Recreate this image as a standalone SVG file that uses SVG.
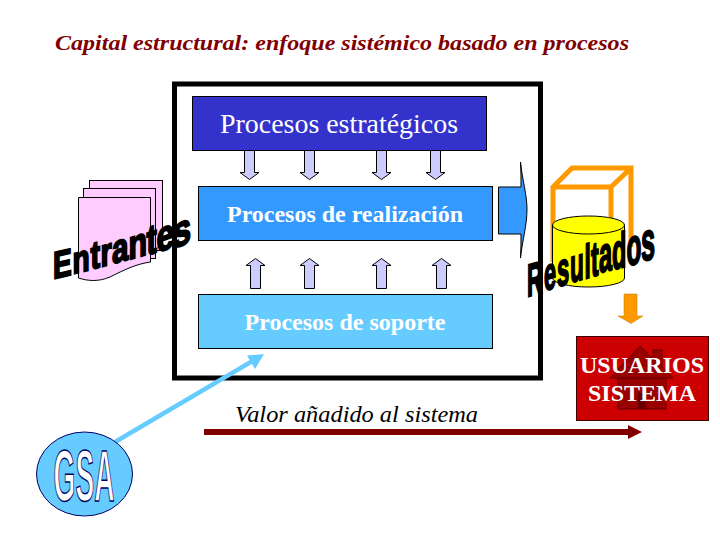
<svg xmlns="http://www.w3.org/2000/svg" width="720" height="540" viewBox="0 0 720 540">
<defs>
<style>
.ser{font-family:"Liberation Serif","Times New Roman",serif}
.wa{font-family:"Liberation Sans",Arial,sans-serif;font-weight:bold;fill:#000;stroke:#000;stroke-width:2px}
.pur{fill:#ccccff;stroke:#000;stroke-width:1}
.pg{fill:#ffccff;stroke:#000;stroke-width:1}
</style>
<polygon id="dn" class="pur" points="-5,0 5,0 5,22 9.500,22 0,29 -9.500,22 -5,22"/>
<polygon id="up" class="pur" points="-5,30 5,30 5,7 9.500,7 0,0 -9.500,7 -5,7"/>
</defs>
<rect width="720" height="540" fill="#fff"/>
<text id="title" class="ser" x="55" y="50" font-size="21" font-style="italic" font-weight="bold" fill="#800000" textLength="574" lengthAdjust="spacingAndGlyphs">Capital estructural: enfoque sistémico basado en procesos</text>

<g id="system-frame"><rect x="174.500" y="84" width="366" height="294" fill="#fff" stroke="#000" stroke-width="5"/></g>

<g id="entrantes-docs">
<rect class="pg" x="89.500" y="180.500" width="73" height="70"/>
<rect class="pg" x="83.500" y="188.500" width="72" height="70"/>
<path class="pg" d="M78.500 197.500H150.500V262C136 264 124 270 110 277C98 282 88 281 78.500 278Z"/>
</g>

<g id="estrategicos">
<rect x="192.500" y="96.500" width="294" height="54" fill="#3333cc" stroke="#000"/>
<text class="ser" x="339" y="133" font-size="28" fill="#fff" text-anchor="middle" textLength="238" lengthAdjust="spacingAndGlyphs">Procesos estratégicos</text>
</g>
<g id="realizacion">
<rect x="198.500" y="186.500" width="294" height="54" fill="#3399ff" stroke="#000"/>
<text class="ser" x="345" y="222" font-size="24" font-weight="bold" fill="#fff" text-anchor="middle" textLength="236" lengthAdjust="spacingAndGlyphs">Procesos de realización</text>
</g>
<g id="soporte">
<rect x="198.500" y="294.500" width="294" height="54" fill="#66ccff" stroke="#000"/>
<text class="ser" x="345" y="330" font-size="24" font-weight="bold" fill="#fff" text-anchor="middle" textLength="201" lengthAdjust="spacingAndGlyphs">Procesos de soporte</text>
</g>

<g id="connectors">
<use href="#dn" x="249.500" y="150.500"/>
<use href="#dn" x="309.500" y="150.500"/>
<use href="#dn" x="381.500" y="150.500"/>
<use href="#dn" x="435.500" y="150.500"/>
<use href="#up" x="255.500" y="258.500"/>
<use href="#up" x="309.500" y="258.500"/>
<use href="#up" x="381.500" y="258.500"/>
<use href="#up" x="441.500" y="258.500"/>
<path d="M498.500 187H521C521 178 521 170 520.500 162C522 178 527 195 527 209C527 226 522 242 520.500 258C521 250 521 242 521 234H498.500Z" fill="#3399ff" stroke="#000" stroke-width="1"/>
<polygon points="624,294 637,294 637,316 643,316 631,323.500 618,316 624,316" fill="#ff9900" stroke="#b87a00" stroke-width="0.500"/>
<line x1="115" y1="442" x2="256" y2="359" stroke="#66ccff" stroke-width="4.500"/>
<polygon points="264,354 247,355.500 255,369" fill="#66ccff"/>
<line x1="204" y1="432" x2="630" y2="432" stroke="#800000" stroke-width="6"/>
<polygon points="628,425 642,432 628,439" fill="#800000"/>
</g>

<g id="resultados-cubo">
<path d="M553 262V187L572 168H631V247M553 187H611V225M611 187L631 168" fill="none" stroke="#ff9900" stroke-width="5"/>
<path d="M552.500 225V278A36 9 0 0 0 624.500 278V225Z" fill="#ffff00" stroke="#000"/>
<ellipse cx="588.500" cy="225" rx="36" ry="9" fill="#ffff00" stroke="#000"/>
</g>

<g id="entrantes-label">
<text class="wa" font-size="38" transform="translate(53 279) skewY(-13) scale(.74 1)">E</text>
<text class="wa" font-size="38" transform="translate(72.500 274) skewY(-13) scale(.74 1)">n</text>
<text class="wa" font-size="39" transform="translate(90.500 269.500) skewY(-14) scale(.74 1)">t</text>
<text class="wa" font-size="39" transform="translate(100.500 267) skewY(-15) scale(.74 1)">r</text>
<text class="wa" font-size="40" transform="translate(112 264) skewY(-16) scale(.74 1)">a</text>
<text class="wa" font-size="41" transform="translate(128.500 260) skewY(-17) scale(.74 1)">n</text>
<text class="wa" font-size="42" transform="translate(146.500 255.500) skewY(-18) scale(.74 1)">t</text>
<text class="wa" font-size="43" transform="translate(156.500 253) skewY(-20) scale(.74 1)">e</text>
<text class="wa" font-size="44" transform="translate(173 249) skewY(-22) scale(.74 1)">s</text>
</g>

<g id="resultados-label">
<text class="wa" font-size="46" transform="translate(527 297) skewY(-16) scale(.47 1)">R</text>
<text class="wa" font-size="46" transform="translate(544 291) skewY(-16) scale(.47 1)">e</text>
<text class="wa" font-size="47" transform="translate(557 287) skewY(-16) scale(.47 1)">s</text>
<text class="wa" font-size="48" transform="translate(570 283) skewY(-16) scale(.47 1)">u</text>
<text class="wa" font-size="48" transform="translate(584.500 279) skewY(-16) scale(.47 1)">l</text>
<text class="wa" font-size="49" transform="translate(591 277) skewY(-16) scale(.47 1)">t</text>
<text class="wa" font-size="50" transform="translate(599 273) skewY(-14) scale(.47 1)">a</text>
<text class="wa" font-size="50" transform="translate(612 270) skewY(-14) scale(.47 1)">d</text>
<text class="wa" font-size="52" transform="translate(626.500 266) skewY(-12) scale(.47 1)">o</text>
<text class="wa" font-size="54" transform="translate(641 261) skewY(-10) scale(.47 1)">s</text>
</g>

<g id="usuarios">
<rect x="576.500" y="336.500" width="132" height="84" fill="#cc0000" stroke="#400000"/>
<rect x="653" y="350" width="9" height="20" fill="#990000" stroke="#660000"/>
<rect x="618" y="378" width="48" height="31" fill="#990000" stroke="#660000"/>
<polygon points="610,378 640,346 673,378" fill="#990000" stroke="#660000"/>
<rect x="638" y="393" width="8" height="16" fill="#660000"/>
<text class="ser" x="642" y="373" font-size="24" font-weight="bold" fill="#fff" text-anchor="middle">USUARIOS</text>
<text class="ser" x="642" y="401" font-size="24" font-weight="bold" fill="#fff" text-anchor="middle">SISTEMA</text>
</g>

<g id="valor"><text class="ser" x="235" y="422" font-size="23" font-style="italic" fill="#000" textLength="243" lengthAdjust="spacingAndGlyphs">Valor añadido al sistema</text></g>

<g id="gsa">
<ellipse cx="84.500" cy="474" rx="48" ry="42" fill="#66ccff" stroke="#000066"/>
<text x="0" y="501" font-family="'Liberation Sans',Arial,sans-serif" font-weight="bold" font-size="72" fill="#fff" stroke="#000066" stroke-width="1.500" text-anchor="middle" transform="translate(84 0) scale(.39 1)">GSA</text>
</g>
</svg>
